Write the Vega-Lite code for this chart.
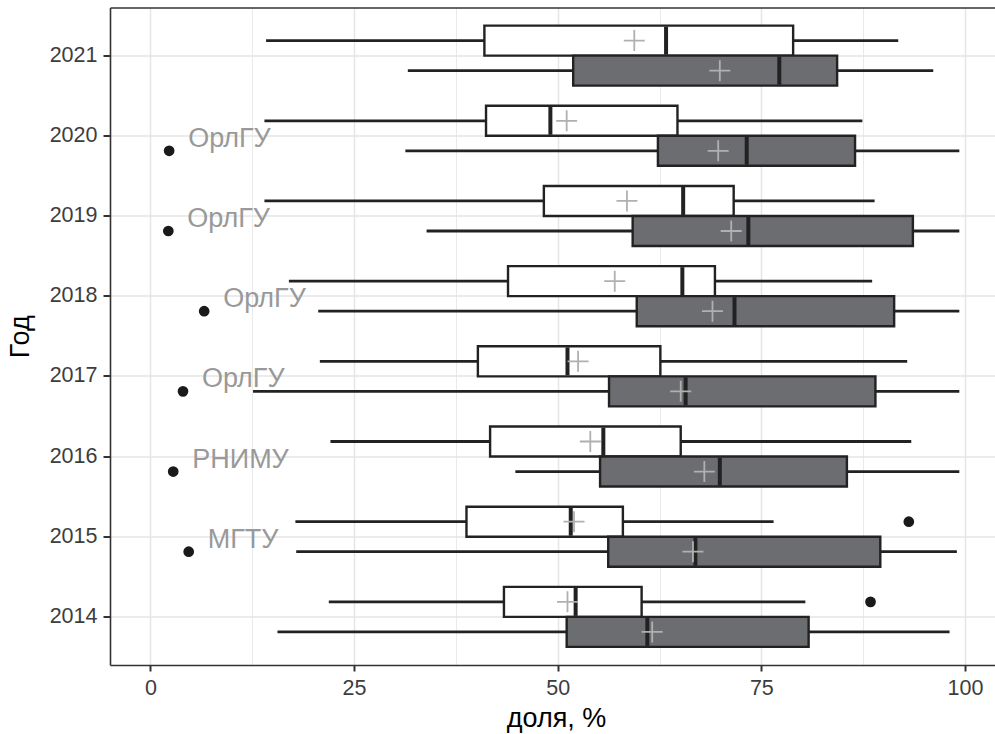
{
  "$schema": "https://vega.github.io/schema/vega-lite/v6.json",
  "autosize": {"type": "none"},
  "width": 885,
  "height": 657.5,
  "padding": {"left": 110, "top": 7.5, "right": 0, "bottom": 69},
  "background": "white",
  "config": {
    "view": {"stroke": null},
    "font": "Liberation Sans",
    "axis": {"titleFontWeight": "normal", "titleColor": "#000000", "labelColor": "#3d3d3d"}
  },
  "datasets": {
    "boxes": [
      {"year": 2021, "grp": "1", "lo": 14.2, "q1": 41.0, "med": 63.3, "q3": 78.9, "hi": 91.8, "mean": 59.4},
      {"year": 2021, "grp": "2", "lo": 31.6, "q1": 51.9, "med": 77.2, "q3": 84.3, "hi": 96.1, "mean": 69.9},
      {"year": 2020, "grp": "1", "lo": 14.0, "q1": 41.2, "med": 49.1, "q3": 64.7, "hi": 87.4, "mean": 51.1},
      {"year": 2020, "grp": "2", "lo": 31.3, "q1": 62.3, "med": 73.2, "q3": 86.5, "hi": 99.3, "mean": 69.7},
      {"year": 2019, "grp": "1", "lo": 14.0, "q1": 48.3, "med": 65.4, "q3": 71.6, "hi": 88.9, "mean": 58.5},
      {"year": 2019, "grp": "2", "lo": 33.9, "q1": 59.2, "med": 73.4, "q3": 93.6, "hi": 99.3, "mean": 71.3},
      {"year": 2018, "grp": "1", "lo": 17.0, "q1": 43.9, "med": 65.3, "q3": 69.3, "hi": 88.6, "mean": 57.0},
      {"year": 2018, "grp": "2", "lo": 20.6, "q1": 59.7, "med": 71.7, "q3": 91.3, "hi": 99.3, "mean": 69.0},
      {"year": 2017, "grp": "1", "lo": 20.8, "q1": 40.2, "med": 51.2, "q3": 62.6, "hi": 92.9, "mean": 52.5},
      {"year": 2017, "grp": "2", "lo": 12.6, "q1": 56.3, "med": 65.7, "q3": 89.0, "hi": 99.3, "mean": 65.1},
      {"year": 2016, "grp": "1", "lo": 22.1, "q1": 41.7, "med": 55.6, "q3": 65.1, "hi": 93.4, "mean": 54.0},
      {"year": 2016, "grp": "2", "lo": 44.8, "q1": 55.2, "med": 69.9, "q3": 85.5, "hi": 99.3, "mean": 68.0},
      {"year": 2015, "grp": "1", "lo": 17.8, "q1": 38.8, "med": 51.6, "q3": 58.0, "hi": 76.5, "mean": 52.0},
      {"year": 2015, "grp": "2", "lo": 17.9, "q1": 56.2, "med": 66.9, "q3": 89.6, "hi": 99.0, "mean": 66.6},
      {"year": 2014, "grp": "1", "lo": 21.9, "q1": 43.4, "med": 52.2, "q3": 60.3, "hi": 80.4, "mean": 51.2},
      {"year": 2014, "grp": "2", "lo": 15.6, "q1": 51.1, "med": 61.0, "q3": 80.8, "hi": 98.1, "mean": 61.6}
    ],
    "outliers": [
      {"year": 2020, "grp": "2", "value": 2.3, "label": "ОрлГУ"},
      {"year": 2019, "grp": "2", "value": 2.2, "label": "ОрлГУ"},
      {"year": 2018, "grp": "2", "value": 6.6, "label": "ОрлГУ"},
      {"year": 2017, "grp": "2", "value": 4.0, "label": "ОрлГУ"},
      {"year": 2016, "grp": "2", "value": 2.8, "label": "РНИМУ"},
      {"year": 2015, "grp": "2", "value": 4.7, "label": "МГТУ"},
      {"year": 2015, "grp": "1", "value": 93.1, "label": ""},
      {"year": 2014, "grp": "1", "value": 88.4, "label": ""}
    ]
  },
  "encoding": {
    "y": {
      "field": "year", "type": "ordinal",
      "scale": {"domain": [2021, 2020, 2019, 2018, 2017, 2016, 2015, 2014], "paddingInner": 0, "paddingOuter": 0.1},
      "axis": {
        "title": "Год", "titleFontSize": 27, "titlePadding": 15,
        "labelFontSize": 21.5, "labelPadding": 6,
        "grid": true, "gridColor": "#e5e5e5", "gridWidth": 1.5, "bandPosition": 0.5,
        "tickSize": 7, "tickWidth": 2, "tickColor": "#333333",
        "domainColor": "#333333", "domainWidth": 1.6
      }
    },
    "yOffset": {
      "field": "grp", "type": "nominal",
      "scale": {"domain": ["1", "2"], "paddingInner": 0, "paddingOuter": 0.335}
    }
  },
  "layer": [
    {
      "data": {"name": "boxes"},
      "mark": {"type": "rule", "color": "#222222", "strokeWidth": 2.8},
      "encoding": {
        "x": {
          "field": "lo", "type": "quantitative",
          "scale": {"domain": [-4.96, 103.68], "nice": false, "zero": false},
          "axis": {
            "title": "доля, %", "titleFontSize": 27, "titlePadding": 7, "titleX": 446, "titleAlign": "center",
            "values": [0, 25, 50, 75, 100], "labelFontSize": 21.5, "labelPadding": 6,
            "grid": true, "gridColor": "#e5e5e5", "gridWidth": 1.5,
            "tickSize": 6, "tickWidth": 2, "tickColor": "#333333",
            "domainColor": "#333333", "domainWidth": 1.6
          }
        },
        "x2": {"field": "hi"}
      }
    },
    {
      "data": {"name": "boxes"},
      "mark": {"type": "bar", "stroke": "#222222", "strokeWidth": 2.4, "opacity": 1},
      "encoding": {
        "x": {
          "field": "q1", "type": "quantitative",
          "axis": {"values": [12.5, 37.5, 62.5, 87.5], "grid": true, "gridColor": "#e8e8e8", "gridWidth": 0.9,
                   "labels": false, "ticks": false, "domain": false, "title": null}
        },
        "x2": {"field": "q3"},
        "fill": {"field": "grp", "type": "nominal", "scale": {"domain": ["1", "2"], "range": ["#ffffff", "#6c6d70"]}, "legend": null}
      }
    },
    {
      "data": {"name": "boxes"},
      "mark": {"type": "tick", "color": "#222222", "thickness": 4, "size": 28, "opacity": 1},
      "encoding": {
        "x": {
          "field": "med", "type": "quantitative",
          "axis": {"orient": "top", "labels": false, "ticks": false, "grid": false, "title": null,
                   "domain": true, "domainColor": "#333333", "domainWidth": 1.6}
        }
      }
    },
    {
      "data": {"name": "boxes"},
      "mark": {"type": "point", "shape": "M-1,0L1,0M0,-1L0,1", "filled": false, "stroke": "#b0b0b0", "strokeWidth": 1.8, "size": 441, "opacity": 1},
      "encoding": {
        "x": {"field": "mean", "type": "quantitative", "axis": null}
      }
    },
    {
      "data": {"name": "outliers"},
      "mark": {"type": "point", "filled": true, "color": "#1a1a1a", "size": 115, "opacity": 1},
      "encoding": {
        "x": {"field": "value", "type": "quantitative", "axis": null}
      }
    },
    {
      "data": {"name": "outliers"},
      "transform": [{"filter": "datum.label != ''"}],
      "mark": {"type": "text", "align": "left", "baseline": "alphabetic", "dx": 19, "dy": -4, "fontSize": 27, "color": "#999999"},
      "encoding": {
        "x": {"field": "value", "type": "quantitative", "axis": null},
        "text": {"field": "label"}
      }
    }
  ],
  "resolve": {"axis": {"x": "independent"}}
}
